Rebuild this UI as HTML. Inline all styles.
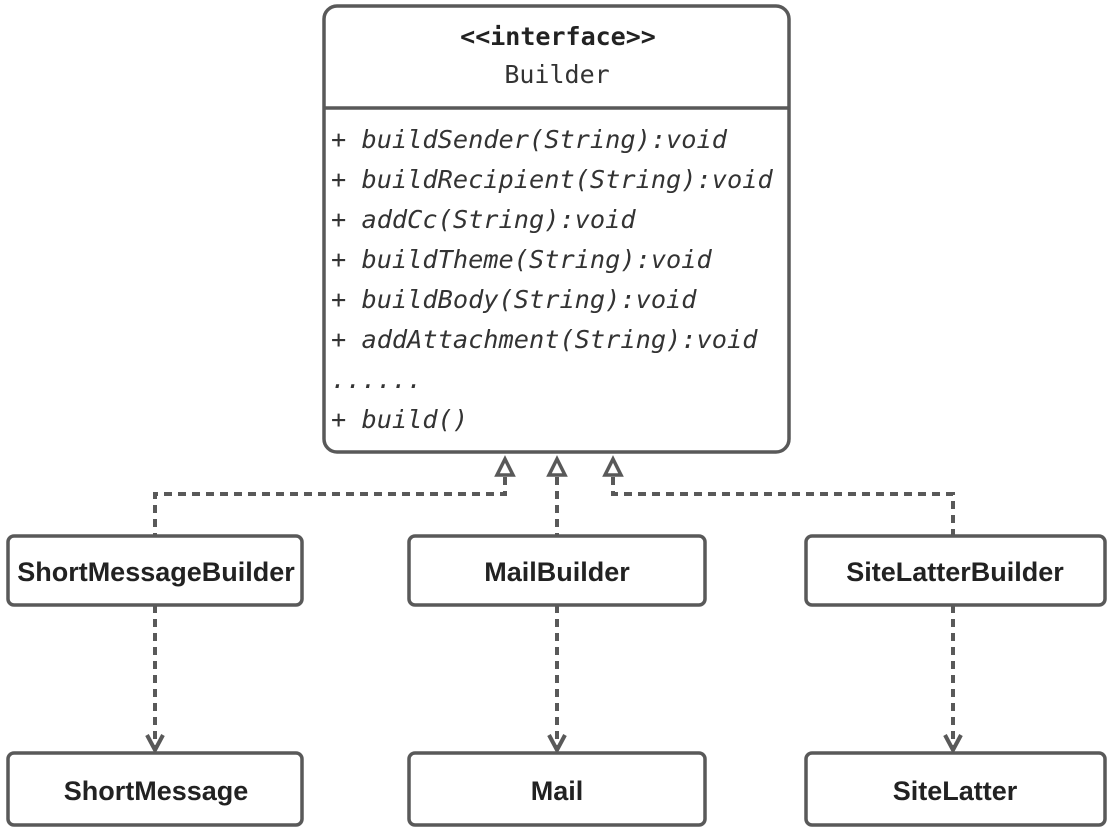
<!DOCTYPE html>
<html><head><meta charset="utf-8"><style>
html,body{margin:0;padding:0;background:#fff;}
svg{display:block;}
.m{font-family:"DejaVu Sans Mono","Liberation Mono",monospace;font-size:25.3px;font-style:italic;fill:#333;}
.b{font-family:"Liberation Sans","DejaVu Sans",sans-serif;font-weight:bold;font-size:27px;fill:#222;}
</style></head><body>
<svg width="1114" height="832" viewBox="0 0 1114 832" xmlns="http://www.w3.org/2000/svg">
<g fill="#fff" stroke="#595959" stroke-width="3.5">
<rect x="324" y="6" width="465" height="446" rx="13"/>
<line x1="324" y1="108" x2="789" y2="108"/>
<rect x="8" y="536" width="294" height="69" rx="6"/>
<rect x="409" y="536" width="296" height="69" rx="6"/>
<rect x="806" y="536" width="299" height="69" rx="6"/>
<rect x="8" y="753" width="294" height="72" rx="6"/>
<rect x="409" y="753" width="296" height="72" rx="6"/>
<rect x="806" y="753" width="299" height="72" rx="6"/>
</g>
<text x="558" y="45" text-anchor="middle" font-family="DejaVu Sans Mono,Liberation Mono,monospace" font-size="25" font-weight="bold" fill="#222">&lt;&lt;interface&gt;&gt;</text>
<text x="557" y="83" text-anchor="middle" font-family="DejaVu Sans Mono,Liberation Mono,monospace" font-size="25" fill="#333">Builder</text>
<text class="m" x="331" y="148">+ buildSender(String):void</text>
<text class="m" x="331" y="188">+ buildRecipient(String):void</text>
<text class="m" x="331" y="228">+ addCc(String):void</text>
<text class="m" x="331" y="268">+ buildTheme(String):void</text>
<text class="m" x="331" y="308">+ buildBody(String):void</text>
<text class="m" x="331" y="348">+ addAttachment(String):void</text>
<text class="m" x="331" y="388">......</text>
<text class="m" x="331" y="428">+ build()</text>
<text class="b" x="156" y="581" text-anchor="middle">ShortMessageBuilder</text>
<text class="b" x="557" y="581" text-anchor="middle">MailBuilder</text>
<text class="b" x="955" y="581" text-anchor="middle">SiteLatterBuilder</text>
<text class="b" x="156" y="800" text-anchor="middle">ShortMessage</text>
<text class="b" x="557" y="800" text-anchor="middle">Mail</text>
<text class="b" x="955" y="800" text-anchor="middle">SiteLatter</text>
<g fill="none" stroke="#595959" stroke-width="4" stroke-dasharray="8,6">
<polyline points="505,477 505,494 155,494 155,536"/>
<polyline points="557,477 557,536"/>
<polyline points="613,477 613,494 953,494 953,536"/>
<polyline points="155,605 155,748"/>
<polyline points="557,605 557,748"/>
<polyline points="953,605 953,748"/>
</g>
<g fill="#fff" stroke="#595959" stroke-width="3.5" stroke-linejoin="miter">
<polygon points="505,459 497,475 513,475"/>
<polygon points="557,459 549,475 565,475"/>
<polygon points="613,459 605,475 621,475"/>
</g>
<g fill="none" stroke="#595959" stroke-width="4">
<polyline points="147,735 155,750 163,735"/>
<polyline points="549,735 557,750 565,735"/>
<polyline points="945,735 953,750 961,735"/>
</g>
</svg>
</body></html>
